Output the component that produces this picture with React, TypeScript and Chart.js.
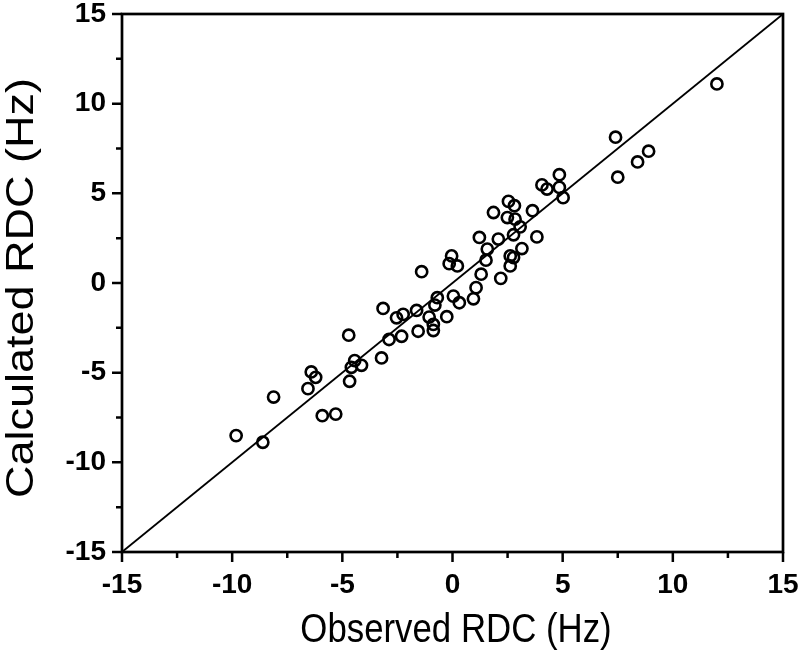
import React, { useEffect, useRef } from "react";
import { Chart, registerables } from "chart.js";

Chart.register(...registerables);

const observedRDC: number[] = [
  12.0, 7.4, 8.9, 8.4, 7.5, 4.85, 4.06, 4.29, 4.85, 5.02,
  2.54, 2.81, 1.86, 3.63, 2.49, 2.84, 3.07, 2.77, 1.22, 2.08,
  3.83, 1.58, 3.15, 2.62, 2.77, -0.04, -0.15, 0.22, 1.52, 2.62,
  -1.4, 1.3, 2.19, 1.07, 0.04, -0.69, 0.31, 0.95, -0.8, -1.63,
  -2.24, -1.06, -0.26, -0.87, -1.56, -0.87, -2.31, -3.15, -2.54, -4.71,
  -2.88, -3.22, -4.44, -4.13, -4.59, -4.67, -6.41, -6.21, -6.56, -8.12,
  -5.91, -5.3, -9.82, -8.61,
];

const calculatedRDC: number[] = [
  11.1, 8.13, 7.35, 6.75, 5.9, 6.04, 5.47, 5.24, 5.33, 4.76,
  4.55, 4.31, 3.93, 4.03, 3.65, 3.56, 3.13, 2.69, 2.54, 2.45,
  2.57, 1.89, 1.92, 1.51, 1.42, 1.51, 1.08, 0.95, 1.27, 0.95,
  0.63, 0.49, 0.26, -0.26, -0.73, -0.82, -1.1, -0.88, -1.23, -1.53,
  -1.75, -1.9, -1.88, -2.31, -2.69, -2.65, -2.97, -1.42, -1.94, -2.91,
  -3.15, -4.18, -4.33, -4.59, -4.7, -5.48, -4.96, -5.26, -5.89, -6.36,
  -7.4, -7.31, -8.51, -8.88,
];

const identityLine: number[] = [-15, 15];
const tickValues: number[] = [-15, -12.5, -10, -7.5, -5, -2.5, 0, 2.5, 5, 7.5, 10, 12.5, 15];
const xTitle = "Observed RDC (Hz)";
const yTitle = "Calculated RDC (Hz)";

const FONT = '"Liberation Sans", Arial, Helvetica, sans-serif';

const framePlugin = {
  id: "frame",
  afterDraw(chart: any) {
    const { ctx, chartArea: a, scales } = chart;
    ctx.save();
    ctx.strokeStyle = "#000";
    ctx.lineWidth = 2.7;
    ctx.strokeRect(a.left, a.top, a.right - a.left, a.bottom - a.top);
    ctx.lineWidth = 2.5;
    ctx.beginPath();
    for (const v of tickValues) {
      const len = v % 5 === 0 ? 10 : 6;
      const px = scales.x.getPixelForValue(v);
      ctx.moveTo(px, a.bottom);
      ctx.lineTo(px, a.bottom + len);
      const py = scales.y.getPixelForValue(v);
      ctx.moveTo(a.left, py);
      ctx.lineTo(a.left - len, py);
    }
    ctx.stroke();

    ctx.fillStyle = "#000";
    ctx.textAlign = "center";
    ctx.textBaseline = "alphabetic";
    // x title
    ctx.save();
    ctx.font = `40px ${FONT}`;
    ctx.translate(456, 642);
    ctx.scale(0.87, 1);
    ctx.fillText(xTitle, 0, 0);
    ctx.restore();
    // y title
    ctx.save();
    ctx.font = `45px ${FONT}`;
    ctx.translate(33, 288);
    ctx.rotate(-Math.PI / 2);
    ctx.scale(1, 0.88);
    ctx.fillText(yTitle, 0, 0);
    ctx.restore();

    ctx.restore();
  },
};

export default function App() {
  const ref = useRef<HTMLCanvasElement | null>(null);

  useEffect(() => {
    if (!ref.current) return;
    const points = observedRDC.map((x, i) => ({ x, y: calculatedRDC[i] }));
    const line = identityLine.map((v) => ({ x: v, y: v }));
    const chart = new Chart(ref.current, {
      type: "scatter",
      data: {
        datasets: [
          {
            type: "line",
            data: line,
            borderColor: "#000",
            borderWidth: 1.8,
            pointRadius: 0,
            fill: false,
            order: 2,
          } as any,
          {
            data: points,
            pointStyle: "circle",
            pointRadius: 5.6,
            pointBorderWidth: 2.6,
            borderColor: "#000",
            backgroundColor: "rgba(0,0,0,0)",
            pointBackgroundColor: "rgba(0,0,0,0)",
            pointBorderColor: "#000",
            order: 1,
          } as any,
        ],
      },
      options: {
        animation: false,
        responsive: false,
        maintainAspectRatio: false,
        layout: { padding: { left: 0, top: 14, right: 17, bottom: 0 } },
        plugins: {
          legend: { display: false },
          tooltip: { enabled: false },
        },
        scales: {
          x: {
            type: "linear",
            min: -15,
            max: 15,
            grid: { display: false, drawTicks: false },
            border: { display: false },
            ticks: {
              stepSize: 5,
              padding: 16,
              color: "#000",
              font: { family: FONT, size: 28, weight: "bold" },
              callback: (v: any) => String(v),
            },
            afterFit: (s: any) => {
              s.height = 100;
              s.paddingLeft = 0;
              s.paddingRight = 0;
            },
          },
          y: {
            type: "linear",
            min: -15,
            max: 15,
            grid: { display: false, drawTicks: false },
            border: { display: false },
            ticks: {
              stepSize: 5,
              padding: 16,
              color: "#000",
              font: { family: FONT, size: 28, weight: "bold" },
              callback: (v: any) => String(v),
            },
            afterFit: (s: any) => {
              s.width = 122;
              s.paddingTop = 0;
              s.paddingBottom = 0;
            },
          },
        },
      } as any,
      plugins: [framePlugin],
    });
    return () => chart.destroy();
  }, []);

  return (
    <div style={{ position: "fixed", left: 0, top: 0, width: 800, height: 652, background: "#fff" }}>
      <canvas ref={ref} width={800} height={652} style={{ width: 800, height: 652 }} />
    </div>
  );
}
